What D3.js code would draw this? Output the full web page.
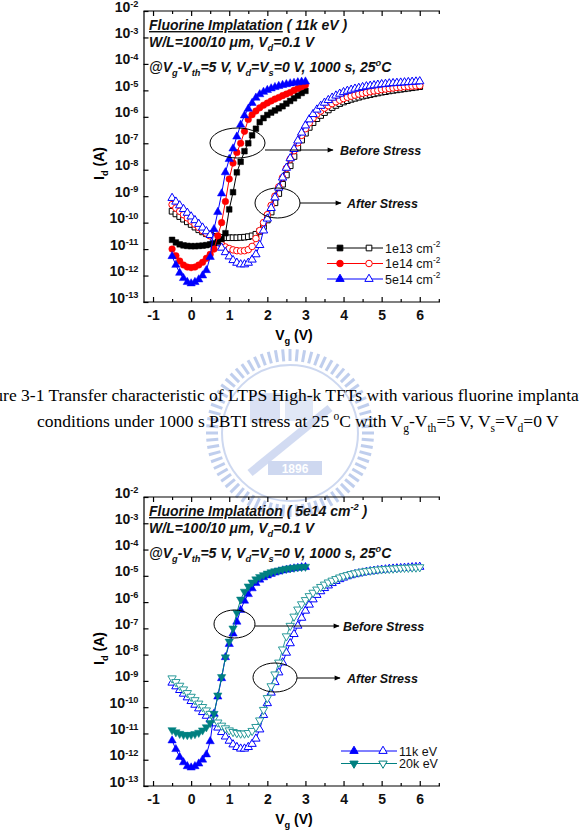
<!DOCTYPE html>
<html>
<head>
<meta charset="utf-8">
<script src="https://cdn.jsdelivr.net/npm/d3@7"></script>
<style>
  body { margin: 0; background: #fff; }
  svg { display: block; }
  .axis path, .axis line { stroke: #000; stroke-width: 1.2; }
  .axis text { font-family: 'Liberation Sans', Arial, sans-serif; font-weight: bold; fill: #111; }
</style>
</head>
<body>
<div id="chart"></div>
<script>
// gate voltage grids (V)
const vgBefore = [-0.5, -0.4, -0.3, -0.2, -0.1, 0.0, 0.1, 0.2, 0.3, 0.4, 0.5, 0.6, 0.7, 0.8, 0.9, 1.0, 1.1, 1.2,
  1.3, 1.4, 1.5, 1.6, 1.7, 1.8, 1.9, 2.0, 2.1, 2.2, 2.3, 2.4, 2.5, 2.6, 2.7, 2.8, 2.9, 3.0];
const vgAfter = [-0.5, -0.4, -0.3, -0.2, -0.1, 0.0, 0.1, 0.2, 0.3, 0.4, 0.5, 0.6, 0.7, 0.8, 0.9, 1.0, 1.1, 1.2,
  1.3, 1.4, 1.5, 1.6, 1.7, 1.8, 1.9, 2.0, 2.1, 2.2, 2.3, 2.4, 2.5, 2.6, 2.7, 2.8, 2.9, 3.0, 3.1, 3.2, 3.3,
  3.4, 3.5, 3.6, 3.7, 3.8, 3.9, 4.0, 4.1, 4.2, 4.3, 4.4, 4.5, 4.6, 4.7, 4.8, 4.9, 5.0, 5.1, 5.2, 5.3, 5.4,
  5.5, 5.6, 5.7, 5.8, 5.9, 6.0];

// log10(Id)
const f1e13Before = [-10.65, -10.75, -10.82, -10.86, -10.88, -10.89, -10.89, -10.88, -10.87, -10.85, -10.82, -10.78,
  -10.72, -10.62, -10.4, -9.5, -8.85, -8.1, -7.7, -7.3, -7.0, -6.7, -6.45, -6.2, -6.05, -5.93, -5.84, -5.76,
  -5.68, -5.6, -5.5, -5.4, -5.3, -5.2, -5.1, -5.02];
const f1e14Before = [-11.0, -11.25, -11.45, -11.6, -11.68, -11.7, -11.68, -11.6, -11.5, -11.35, -11.2, -11.0,
  -10.5, -10.0, -9.2, -8.35, -7.75, -7.35, -7.0, -6.55, -6.1, -5.92, -5.78, -5.66, -5.56, -5.48, -5.4, -5.33,
  -5.27, -5.2, -5.14, -5.08, -5.0, -4.93, -4.86, -4.8];
const f5e14Before = [-11.27, -11.6, -11.9, -12.1, -12.25, -12.3, -12.25, -12.15, -12.0, -11.8, -11.3, -10.25,
  -9.6, -8.9, -8.1, -7.6, -7.2, -6.75, -6.3, -5.95, -5.7, -5.48, -5.28, -5.15, -5.06, -4.99, -4.93, -4.88,
  -4.84, -4.8, -4.77, -4.74, -4.72, -4.7, -4.68, -4.67];

const f1e13After = [-9.57, -9.67, -9.77, -9.87, -9.97, -10.07, -10.17, -10.27, -10.35, -10.42, -10.47,
  -10.52, -10.55, -10.56, -10.57, -10.57, -10.57, -10.57, -10.56, -10.55, -10.53, -10.5,
  -10.44, -10.33, -10.15, -9.9, -9.6, -9.25, -8.9, -8.55, -8.2, -7.85, -7.5,
  -7.18, -6.88, -6.62, -6.4, -6.22, -6.07, -5.95, -5.84, -5.74, -5.65, -5.57,
  -5.5, -5.44, -5.39, -5.34, -5.3, -5.26, -5.22, -5.19, -5.16, -5.13, -5.1,
  -5.07, -5.05, -5.02, -5.0, -4.98, -4.96, -4.94, -4.92, -4.9, -4.88, -4.86];
const f1e14After = [-9.32, -9.45, -9.57, -9.7, -9.82, -9.94, -10.06, -10.18, -10.3, -10.4, -10.5,
  -10.6, -10.72, -10.83, -10.92, -10.98, -11.03, -11.06, -11.07, -11.06, -11.02, -10.9,
  -10.6, -10.3, -10.0, -9.7, -9.35, -9.0, -8.65, -8.3, -7.95, -7.6, -7.28,
  -6.98, -6.7, -6.45, -6.23, -6.05, -5.9, -5.78, -5.67, -5.58, -5.5, -5.43,
  -5.37, -5.31, -5.26, -5.22, -5.18, -5.14, -5.11, -5.08, -5.05, -5.02, -5.0,
  -4.97, -4.95, -4.93, -4.91, -4.89, -4.88, -4.86, -4.85, -4.84, -4.83, -4.82];
const f5e14After = [-9.07, -9.21, -9.35, -9.49, -9.63, -9.77, -9.91, -10.05, -10.19, -10.33, -10.47,
  -10.62, -10.78, -10.95, -11.12, -11.28, -11.42, -11.52, -11.58, -11.58, -11.52, -11.4,
  -11.2, -10.85, -10.3, -9.85, -9.45, -9.05, -8.68, -8.3, -7.93, -7.57, -7.22,
  -6.9, -6.6, -6.33, -6.1, -5.9, -5.73, -5.59, -5.47, -5.37, -5.28, -5.2,
  -5.13, -5.07, -5.02, -4.98, -4.94, -4.91, -4.88, -4.85, -4.83, -4.81, -4.79,
  -4.77, -4.76, -4.74, -4.73, -4.72, -4.71, -4.7, -4.69, -4.68, -4.67, -4.66];

// 20k eV implant (5e14 cm-2)
const e20kBefore = [-10.87, -10.95, -11.01, -11.05, -11.06, -11.05, -11.02, -10.97, -10.88, -10.76, -10.6, -10.25,
  -9.55, -8.85, -8.1, -7.5, -7.0, -6.4, -5.9, -5.6, -5.4, -5.25, -5.13, -5.04, -4.97, -4.91, -4.86, -4.82,
  -4.79, -4.76, -4.73, -4.71, -4.69, -4.67, -4.66, -4.65];
const e20kAfter = [-8.9, -9.04, -9.18, -9.32, -9.46, -9.6, -9.73, -9.86, -9.99, -10.12, -10.25,
  -10.42, -10.58, -10.7, -10.8, -10.88, -10.94, -10.98, -11.0, -11.0, -10.98, -10.9,
  -10.75, -10.5, -10.1, -9.65, -9.2, -8.75, -8.3, -7.8, -7.3, -6.9, -6.55,
  -6.28, -6.08, -5.92, -5.77, -5.64, -5.52, -5.42, -5.33, -5.25, -5.18, -5.12,
  -5.06, -5.01, -4.97, -4.93, -4.9, -4.87, -4.84, -4.82, -4.8, -4.78, -4.76,
  -4.75, -4.74, -4.73, -4.72, -4.71, -4.7, -4.69, -4.69, -4.68, -4.68, -4.67];

const xTicks = [-1, 0, 1, 2, 3, 4, 5, 6];
const xMinor = [-0.5, 0.5, 1.5, 2.5, 3.5, 4.5, 5.5, 6.5];
const yExponents = [-13, -12, -11, -10, -9, -8, -7, -6, -5, -4, -3, -2];

const SANS = "'Liberation Sans', Arial, sans-serif";
const SERIF = "'Liberation Serif', 'Times New Roman', serif";

const svg = d3.select('#chart').append('svg').attr('width', 579).attr('height', 830);
svg.append('rect').attr('width', 579).attr('height', 830).attr('fill', '#fff');

const defs = svg.append('defs');
defs.append('marker').attr('id', 'arrow').attr('viewBox', '0 0 10 10')
  .attr('refX', 9).attr('refY', 5).attr('markerWidth', 7).attr('markerHeight', 6)
  .attr('markerUnits', 'userSpaceOnUse').attr('orient', 'auto')
  .append('path').attr('d', 'M0,1 L10,5 L0,9 Z').attr('fill', '#000');

// text with sub/superscripts
function rich(sel, parts, fs, supRaise = 0.42) {
  let cur = 0;
  parts.forEach(p => {
    const [t, m] = typeof p === 'string' ? [p, ''] : p;
    const target = m === 'sub' ? fs * 0.3 : m === 'sup' ? -fs * supRaise : 0;
    const ts = sel.append('tspan').attr('dy', target - cur).text(t);
    if (m) ts.attr('font-size', fs * 0.66);
    cur = target;
  });
}

// faint school emblem watermark behind the caption
const wm = svg.append('g').attr('transform', 'translate(290,433)').attr('opacity', 0.38);
d3.range(0, 360, 5).forEach(a => {
  wm.append('line')
    .attr('x1', 0).attr('y1', -72).attr('x2', 0).attr('y2', -84)
    .attr('transform', `rotate(${a})`)
    .attr('stroke', '#5a7fd0').attr('stroke-width', 3);
});
wm.append('circle').attr('r', 68).attr('fill', 'none').attr('stroke', '#7e9ad8').attr('stroke-width', 2);
wm.append('rect').attr('x', -40).attr('y', -40).attr('width', 30).attr('height', 30).attr('fill', '#9fb3e4');
wm.append('rect').attr('x', -5).attr('y', -38).attr('width', 28).attr('height', 26).attr('fill', '#b3c3ea');
wm.append('line').attr('x1', -40).attr('y1', 40).attr('x2', 40).attr('y2', -25)
  .attr('stroke', '#8aa3de').attr('stroke-width', 8);
wm.append('rect').attr('x', -22).attr('y', 28).attr('width', 54).attr('height', 14).attr('fill', '#7f9bd9');
wm.append('text').attr('x', 5).attr('y', 40).attr('text-anchor', 'middle')
  .attr('font-family', SANS).attr('font-weight', 'bold').attr('font-size', 12).attr('fill', '#fff').text('1896');

// caption (first line runs past both page edges, as in the scan)
const cap = svg.append('g').attr('font-family', SERIF).attr('font-size', 17.5).attr('fill', '#000');
cap.append('text').attr('x', -29).attr('y', 401)
  .text('Figure 3-1 Transfer characteristic of LTPS High-k TFTs with various fluorine implantation');
const cap2 = cap.append('text').attr('x', 37).attr('y', 427);
rich(cap2, ['conditions under 1000 s PBTI stress at 25 ', ['o', 'sup'], 'C with V', ['g', 'sub'], '-V', ['th', 'sub'],
  '=5 V, V', ['s', 'sub'], '=V', ['d', 'sub'], '=0 V'], 17.5);

function drawChart(cfg) {
  const x = d3.scaleLinear().domain([-1.25, 6.5]).range([143.5, 438.8]);
  const y = d3.scaleLog().domain([1e-13, 1e-2]).range([cfg.bottom, cfg.top]);
  const g = svg.append('g');

  // axes
  const xa = g.append('g').attr('class', 'axis').attr('transform', `translate(0,${cfg.bottom})`)
    .call(d3.axisBottom(x).tickValues(xTicks).tickSize(-5).tickSizeOuter(0).tickPadding(8).tickFormat(d => String(d)));
  xa.selectAll('text').attr('font-size', 14);
  xa.select('.domain').attr('d', `M143.5,0H440`);
  g.append('g').attr('class', 'axis').attr('transform', `translate(0,${cfg.bottom})`)
    .call(d3.axisBottom(x).tickValues(xMinor).tickSize(-3).tickSizeOuter(0).tickFormat(''))
    .select('.domain').remove();
  const ta = g.append('g').attr('class', 'axis').attr('transform', `translate(0,${cfg.top})`)
    .call(d3.axisTop(x).tickValues(xTicks).tickSize(-5).tickSizeOuter(0).tickFormat(''));
  ta.select('.domain').attr('d', `M143.5,0H440`);
  g.append('g').attr('class', 'axis').attr('transform', `translate(0,${cfg.top})`)
    .call(d3.axisTop(x).tickValues(xMinor).tickSize(-3).tickSizeOuter(0).tickFormat(''))
    .select('.domain').remove();

  const ya = g.append('g').attr('class', 'axis').attr('transform', 'translate(143.5,0)')
    .call(d3.axisLeft(y).tickValues(yExponents.map(e => Math.pow(10, e))).tickSize(-5).tickSizeOuter(0)
      .tickPadding(5).tickFormat(''));
  ya.selectAll('.tick text').each(function (d) {
    const t = d3.select(this).attr('font-size', 14).attr('dy', '0.42em');
    rich(t, ['10', [String(Math.round(Math.log10(d))), 'sup']], 14, 0.3);
  });

  // axis titles
  const xt = g.append('text').attr('x', 294).attr('y', cfg.bottom + 38).attr('text-anchor', 'middle')
    .attr('font-family', SANS).attr('font-weight', 'bold').attr('font-size', 14);
  rich(xt, ['V', ['g', 'sub'], ' (V)'], 14);
  const yt = g.append('text').attr('transform', `translate(104,${(cfg.top + cfg.bottom) / 2 + 7}) rotate(-90)`)
    .attr('text-anchor', 'middle').attr('font-family', SANS).attr('font-weight', 'bold').attr('font-size', 14);
  rich(yt, ['I', ['d', 'sub'], ' (A)'], 14);

  // curves
  const line = d3.line().x(d => x(d[0])).y(d => y(Math.pow(10, d[1])));
  cfg.series.forEach(s => {
    const pts = s.vg.map((v, i) => [v, s.logI[i]]);
    g.append('path').datum(pts).attr('d', line).attr('fill', 'none')
      .attr('stroke', s.color).attr('stroke-width', 1);
    g.append('g').selectAll('path').data(pts).join('path')
      .attr('transform', d => `translate(${x(d[0])},${y(Math.pow(10, d[1]))})${s.flip ? ' rotate(180)' : ''}`)
      .attr('d', d3.symbol().type(s.symbol).size(s.size))
      .attr('fill', s.open ? '#fff' : s.color)
      .attr('stroke', s.color).attr('stroke-width', s.open ? 1 : 0.5);
  });

  // header text
  const head = g.append('g').attr('font-family', SANS).attr('font-weight', 'bold')
    .attr('font-style', 'italic').attr('font-size', 14).attr('fill', '#111');
  const h1 = head.append('text').attr('x', 149).attr('y', cfg.top + 19);
  h1.append('tspan').attr('text-decoration', 'underline').text('Fluorine Implatation');
  rich(h1, cfg.title, 14);
  const h2 = head.append('text').attr('x', 149).attr('y', cfg.top + 36);
  rich(h2, ['W/L=100/10 ', 'μ', 'm, V', ['d', 'sub'], '=0.1 V'], 14);
  const h3 = head.append('text').attr('x', 149).attr('y', cfg.top + 61);
  rich(h3, ['@V', ['g', 'sub'], '-V', ['th', 'sub'], '=5 V, V', ['d', 'sub'], '=V', ['s', 'sub'],
    '=0 V, 1000 s, 25', ['o', 'sup'], 'C'], 14);

  // callouts
  cfg.callouts.forEach(c => {
    g.append('ellipse').attr('cx', c.cx).attr('cy', c.cy).attr('rx', c.rx).attr('ry', c.ry)
      .attr('fill', 'none').attr('stroke', '#000').attr('stroke-width', 1);
    g.append('line').attr('x1', c.cx + c.rx).attr('y1', c.ay).attr('x2', c.ax).attr('y2', c.ay)
      .attr('stroke', '#000').attr('stroke-width', 1).attr('marker-end', 'url(#arrow)');
    g.append('text').attr('x', c.tx).attr('y', c.ay + 4.5).attr('font-family', SANS)
      .attr('font-weight', 'bold').attr('font-style', 'italic').attr('font-size', 12.5).attr('fill', '#111')
      .text(c.label);
  });

  // legend
  cfg.legend.forEach((l, i) => {
    const ly = cfg.legY + i * cfg.legStep;
    g.append('line').attr('x1', cfg.legX).attr('x2', cfg.legX + 56).attr('y1', ly).attr('y2', ly)
      .attr('stroke', l.color).attr('stroke-width', 1);
    [[13, false], [42, true]].forEach(([dx, open]) => {
      g.append('path').attr('transform', `translate(${cfg.legX + dx},${ly})${l.flip ? ' rotate(180)' : ''}`)
        .attr('d', d3.symbol().type(l.symbol).size(l.size))
        .attr('fill', open ? '#fff' : l.color).attr('stroke', l.color).attr('stroke-width', 1);
    });
    const lt = g.append('text').attr('x', cfg.legX + 58).attr('y', ly + 4.5).attr('font-family', SANS)
      .attr('font-size', 12.5).attr('fill', '#111');
    rich(lt, l.text, 12.5);
  });
}

const BLACK = '#000', RED = '#ff0000', BLUE = '#0000ff', TEAL = '#008080', TEAL_OPEN = '#2a9a9a';

drawChart({
  top: 11, bottom: 302,
  title: [' ( 11k eV )'],
  series: [
    { vg: vgAfter, logI: f1e13After, color: BLACK, symbol: d3.symbolSquare, size: 32, open: true },
    { vg: vgAfter, logI: f1e14After, color: RED, symbol: d3.symbolCircle, size: 34, open: true },
    { vg: vgAfter, logI: f5e14After, color: BLUE, symbol: d3.symbolTriangle, size: 30, open: true },
    { vg: vgBefore, logI: f1e13Before, color: BLACK, symbol: d3.symbolSquare, size: 32 },
    { vg: vgBefore, logI: f1e14Before, color: RED, symbol: d3.symbolCircle, size: 34 },
    { vg: vgBefore, logI: f5e14Before, color: BLUE, symbol: d3.symbolTriangle, size: 30 }
  ],
  callouts: [
    { cx: 237.5, cy: 143, rx: 27.5, ry: 15, ay: 150, ax: 333, tx: 340, label: 'Before Stress' },
    { cx: 277.5, cy: 203, rx: 22.5, ry: 15, ay: 203, ax: 341, tx: 347, label: 'After Stress' }
  ],
  legX: 327, legY: 248, legStep: 15.5,
  legend: [
    { color: BLACK, symbol: d3.symbolSquare, size: 32, text: ['1e13 cm', ['-2', 'sup']] },
    { color: RED, symbol: d3.symbolCircle, size: 34, text: ['1e14 cm', ['-2', 'sup']] },
    { color: BLUE, symbol: d3.symbolTriangle, size: 30, text: ['5e14 cm', ['-2', 'sup']] }
  ]
});

drawChart({
  top: 497, bottom: 786,
  title: [' ( 5e14 cm', ['-2', 'sup'], ' )'],
  series: [
    { vg: vgAfter, logI: f5e14After, color: BLUE, symbol: d3.symbolTriangle, size: 30, open: true },
    { vg: vgAfter, logI: e20kAfter, color: TEAL_OPEN, symbol: d3.symbolTriangle, size: 30, open: true, flip: true },
    { vg: vgBefore, logI: f5e14Before, color: BLUE, symbol: d3.symbolTriangle, size: 30 },
    { vg: vgBefore, logI: e20kBefore, color: TEAL, symbol: d3.symbolTriangle, size: 30, flip: true }
  ],
  callouts: [
    { cx: 234.5, cy: 624, rx: 20.5, ry: 14, ay: 626, ax: 339, tx: 343, label: 'Before Stress' },
    { cx: 275, cy: 677.5, rx: 22, ry: 14.5, ay: 678, ax: 340, tx: 347, label: 'After Stress' }
  ],
  legX: 341, legY: 751, legStep: 12.5,
  legend: [
    { color: BLUE, symbol: d3.symbolTriangle, size: 30, text: ['11k eV'] },
    { color: TEAL, symbol: d3.symbolTriangle, size: 30, flip: true, text: ['20k eV'] }
  ]
});
</script>
</body>
</html>
